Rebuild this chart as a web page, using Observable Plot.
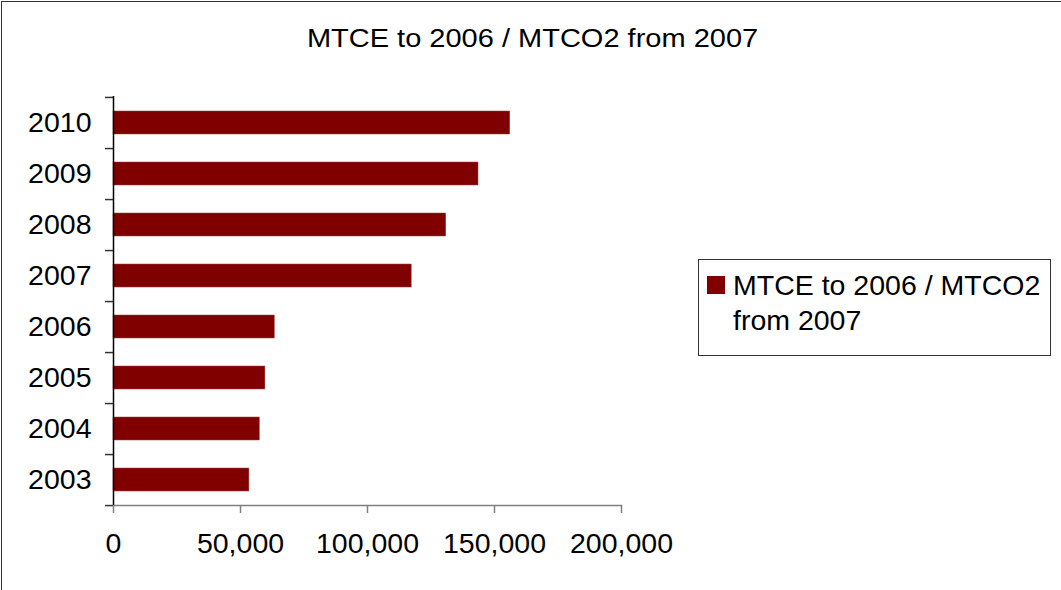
<!DOCTYPE html>
<html>
<head>
<meta charset="utf-8">
<script src="https://cdn.jsdelivr.net/npm/d3@7"></script>
<script src="https://cdn.jsdelivr.net/npm/@observablehq/plot@0.6"></script>
<style>
  html, body { margin: 0; padding: 0; background: #fff; }
  #wrap { position: relative; width: 1061px; height: 590px; overflow: hidden; font-family: "Liberation Sans", Arial, sans-serif; background: #fff; }
  #frame { position: absolute; left: 1px; top: 1px; width: 1100px; height: 600px; border-left: 1px solid #333; border-top: 1px solid #333; box-sizing: border-box; pointer-events: none; }
  #chart { position: absolute; left: 0; top: 0; }
  #title { position: absolute; left: 0; top: 24px; width: 1066px; text-align: center; font-size: 25px; color: #000; white-space: nowrap; }
  #title span { display: inline-block; transform: scaleX(1.16); transform-origin: center; }
  #legend { position: absolute; left: 698px; top: 259px; width: 353px; height: 97px; box-sizing: border-box; border: 1px solid #333; background: #fff; }
  #legend .sw { position: absolute; left: 8px; top: 16px; width: 18px; height: 18px; }
  #legend .tx { position: absolute; left: 34px; top: 8px; font-size: 28.5px; line-height: 35px; color: #000; white-space: nowrap; }
</style>
</head>
<body>
<div id="wrap">
  <div id="chart"></div>
  <div id="title"><span></span></div>
  <div id="legend"><div class="sw"></div><div class="tx"></div></div>
  <div id="frame"></div>
</div>
<script>
const years = ["2003", "2004", "2005", "2006", "2007", "2008", "2009", "2010"];
const values = [53500, 57600, 59800, 63500, 117400, 131000, 143700, 156200];
const xTicks = [0, 50000, 100000, 150000, 200000];
const seriesName = "MTCE to 2006 / MTCO2 from 2007";
const titleText = "MTCE to 2006 / MTCO2 from 2007";
const barColor = "#800000";

const data = years.map((y, i) => ({year: y, value: values[i]}));
const yDomain = years.slice().reverse();

const marginTop = 96, marginBottom = 85, height = 590;
const step = (height - marginTop - marginBottom) / years.length;

const chart = Plot.plot({
  width: 1061,
  height: height,
  marginLeft: 113,
  marginRight: 440,
  marginTop: marginTop,
  marginBottom: marginBottom,
  style: {fontFamily: "'Liberation Sans', Arial, sans-serif", color: "#000", background: "#fff"},
  x: {domain: [0, 200000], ticks: xTicks},
  y: {domain: yDomain, paddingInner: 0.55, paddingOuter: 0.275},
  marks: [
    Plot.barX(data, {x: "value", y: "year", fill: barColor, stroke: "#a04040", strokeWidth: 0.5}),
    Plot.frame({anchor: "bottom", stroke: "#808080", strokeWidth: 1.5}),
    Plot.ruleX([0], {stroke: "#000", strokeWidth: 1.5}),
    Plot.axisY({tickSize: 0, tickPadding: 22, fontSize: 28.5, label: null, fill: "#000"}),
    Plot.axisY({ticks: years, tickSize: 8, tickPadding: 0, tickFormat: () => "", label: null, dy: step / 2, stroke: "#333", strokeWidth: 1.5}),
    Plot.axisY({ticks: ["2010"], tickSize: 8, tickPadding: 0, tickFormat: () => "", label: null, dy: -step / 2, stroke: "#333", strokeWidth: 1.5}),
    Plot.axisX({ticks: xTicks, tickSize: 8, tickPadding: 19, fontSize: 28.5, label: null, stroke: "#808080", strokeWidth: 1.5, fill: "#000", tickFormat: d3.format(",")})
  ]
});
document.getElementById("chart").appendChild(chart);
document.querySelector("#title span").textContent = titleText;
document.querySelector("#legend .sw").style.background = barColor;
document.querySelector("#legend .tx").innerHTML = "MTCE to 2006 / MTCO2<br>from 2007";
</script>
</body>
</html>
